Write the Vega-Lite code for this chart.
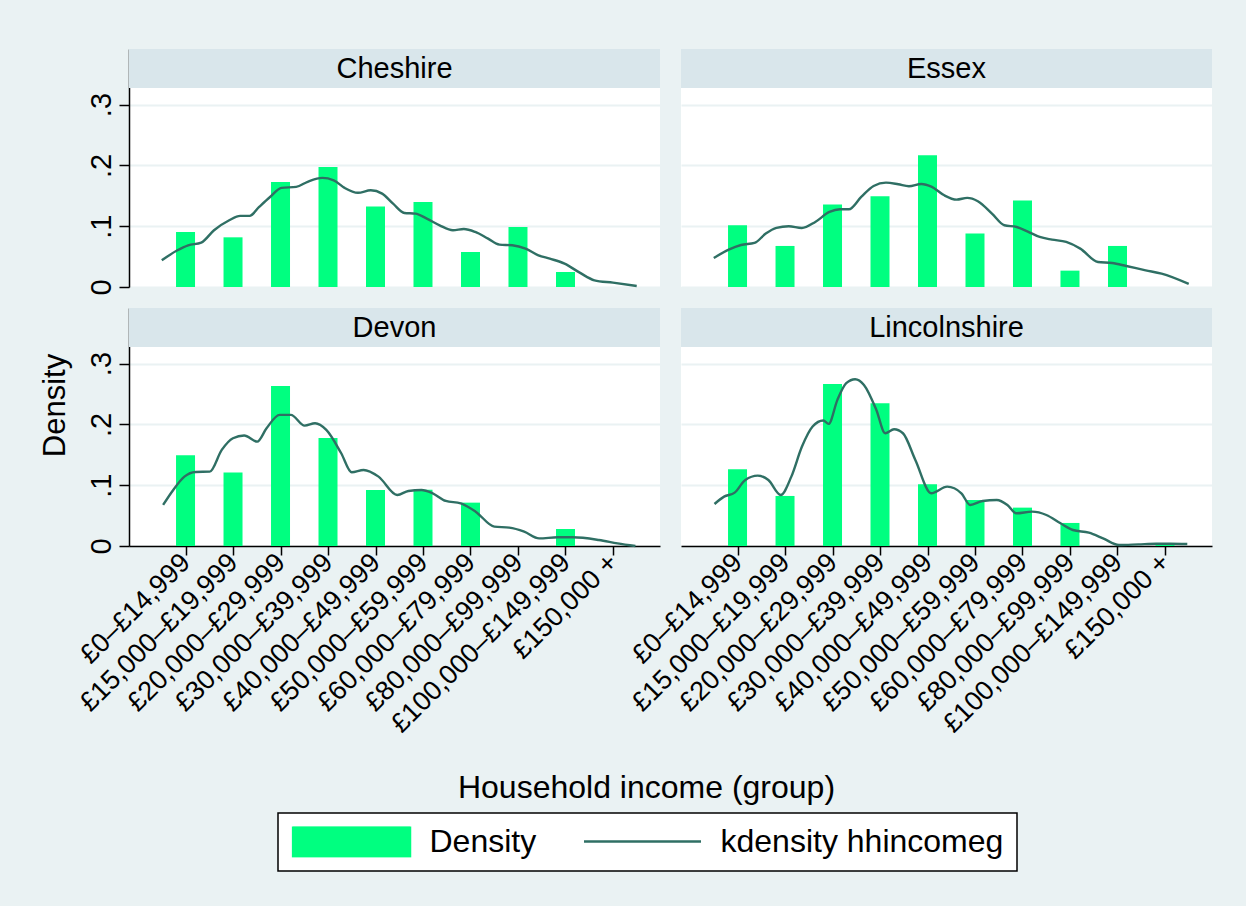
{
  "$schema": "https://vega.github.io/schema/vega-lite/v6.json",
  "background": "#eaf2f3",
  "padding": {"left": 39, "top": 49, "right": 34, "bottom": 34},
  "datasets": {
    "strips": [
      {"county": "Cheshire"}, {"county": "Essex"}, {"county": "Devon"}, {"county": "Lincolnshire"}
    ],
    "bars": [
      {"county": "Cheshire", "group": 1, "density": 0.0905},
      {"county": "Cheshire", "group": 2, "density": 0.0817},
      {"county": "Cheshire", "group": 3, "density": 0.1728},
      {"county": "Cheshire", "group": 4, "density": 0.1975},
      {"county": "Cheshire", "group": 5, "density": 0.1322},
      {"county": "Cheshire", "group": 6, "density": 0.1399},
      {"county": "Cheshire", "group": 7, "density": 0.0576},
      {"county": "Cheshire", "group": 8, "density": 0.0987},
      {"county": "Cheshire", "group": 9, "density": 0.0247},
      {"county": "Essex", "group": 1, "density": 0.1015},
      {"county": "Essex", "group": 2, "density": 0.0675},
      {"county": "Essex", "group": 3, "density": 0.1355},
      {"county": "Essex", "group": 4, "density": 0.1492},
      {"county": "Essex", "group": 5, "density": 0.2167},
      {"county": "Essex", "group": 6, "density": 0.0878},
      {"county": "Essex", "group": 7, "density": 0.1421},
      {"county": "Essex", "group": 8, "density": 0.0269},
      {"county": "Essex", "group": 9, "density": 0.0675},
      {"county": "Devon", "group": 1, "density": 0.1492},
      {"county": "Devon", "group": 2, "density": 0.1207},
      {"county": "Devon", "group": 3, "density": 0.2633},
      {"county": "Devon", "group": 4, "density": 0.1777},
      {"county": "Devon", "group": 5, "density": 0.0922},
      {"county": "Devon", "group": 6, "density": 0.0925},
      {"county": "Devon", "group": 7, "density": 0.0713},
      {"county": "Devon", "group": 9, "density": 0.028},
      {"county": "Lincolnshire", "group": 1, "density": 0.1262},
      {"county": "Lincolnshire", "group": 2, "density": 0.0823},
      {"county": "Lincolnshire", "group": 3, "density": 0.2666},
      {"county": "Lincolnshire", "group": 4, "density": 0.2348},
      {"county": "Lincolnshire", "group": 5, "density": 0.1015},
      {"county": "Lincolnshire", "group": 6, "density": 0.0757},
      {"county": "Lincolnshire", "group": 7, "density": 0.0631},
      {"county": "Lincolnshire", "group": 8, "density": 0.0379},
      {"county": "Lincolnshire", "group": 10, "density": 0.004}
    ],
    "kde": [
      {"county": "Cheshire", "x": 0.5, "y": 0.0439},
      {"county": "Cheshire", "x": 0.82, "y": 0.06},
      {"county": "Cheshire", "x": 1.055, "y": 0.0686},
      {"county": "Cheshire", "x": 1.33, "y": 0.073},
      {"county": "Cheshire", "x": 1.6, "y": 0.0933},
      {"county": "Cheshire", "x": 1.92, "y": 0.1097},
      {"county": "Cheshire", "x": 2.15, "y": 0.117},
      {"county": "Cheshire", "x": 2.35, "y": 0.117},
      {"county": "Cheshire", "x": 2.55, "y": 0.1317},
      {"county": "Cheshire", "x": 2.78, "y": 0.148},
      {"county": "Cheshire", "x": 3.02, "y": 0.163},
      {"county": "Cheshire", "x": 3.33, "y": 0.1646},
      {"county": "Cheshire", "x": 3.57, "y": 0.173},
      {"county": "Cheshire", "x": 3.88, "y": 0.1794},
      {"county": "Cheshire", "x": 4.12, "y": 0.1755},
      {"county": "Cheshire", "x": 4.35, "y": 0.163},
      {"county": "Cheshire", "x": 4.63, "y": 0.155},
      {"county": "Cheshire", "x": 4.9, "y": 0.159},
      {"county": "Cheshire", "x": 5.14, "y": 0.1536},
      {"county": "Cheshire", "x": 5.37, "y": 0.137},
      {"county": "Cheshire", "x": 5.61, "y": 0.1218},
      {"county": "Cheshire", "x": 5.84, "y": 0.1207},
      {"county": "Cheshire", "x": 6.08, "y": 0.1125},
      {"county": "Cheshire", "x": 6.35, "y": 0.1015},
      {"county": "Cheshire", "x": 6.63, "y": 0.0933},
      {"county": "Cheshire", "x": 6.86, "y": 0.0954},
      {"county": "Cheshire", "x": 7.1, "y": 0.0905},
      {"county": "Cheshire", "x": 7.37, "y": 0.0795},
      {"county": "Cheshire", "x": 7.61, "y": 0.0697},
      {"county": "Cheshire", "x": 7.88, "y": 0.0686},
      {"county": "Cheshire", "x": 8.16, "y": 0.0631},
      {"county": "Cheshire", "x": 8.43, "y": 0.0521},
      {"county": "Cheshire", "x": 8.67, "y": 0.0466},
      {"county": "Cheshire", "x": 8.98, "y": 0.0384},
      {"county": "Cheshire", "x": 9.3, "y": 0.0236},
      {"county": "Cheshire", "x": 9.61, "y": 0.011},
      {"county": "Cheshire", "x": 10.0, "y": 0.0071},
      {"county": "Cheshire", "x": 10.5, "y": 0.0016},
      {"county": "Essex", "x": 0.5, "y": 0.0477},
      {"county": "Essex", "x": 0.814, "y": 0.0614},
      {"county": "Essex", "x": 1.074, "y": 0.0691},
      {"county": "Essex", "x": 1.357, "y": 0.0724},
      {"county": "Essex", "x": 1.595, "y": 0.0878},
      {"county": "Essex", "x": 1.818, "y": 0.0971},
      {"county": "Essex", "x": 2.079, "y": 0.0998},
      {"county": "Essex", "x": 2.354, "y": 0.0971},
      {"county": "Essex", "x": 2.637, "y": 0.107},
      {"county": "Essex", "x": 2.935, "y": 0.1234},
      {"county": "Essex", "x": 3.158, "y": 0.1278},
      {"county": "Essex", "x": 3.344, "y": 0.1278},
      {"county": "Essex", "x": 3.604, "y": 0.1481},
      {"county": "Essex", "x": 3.865, "y": 0.1662},
      {"county": "Essex", "x": 4.125, "y": 0.1717},
      {"county": "Essex", "x": 4.385, "y": 0.169},
      {"county": "Essex", "x": 4.609, "y": 0.1657},
      {"county": "Essex", "x": 4.869, "y": 0.1695},
      {"county": "Essex", "x": 5.092, "y": 0.1646},
      {"county": "Essex", "x": 5.353, "y": 0.1508},
      {"county": "Essex", "x": 5.613, "y": 0.1437},
      {"county": "Essex", "x": 5.836, "y": 0.1465},
      {"county": "Essex", "x": 6.06, "y": 0.141},
      {"county": "Essex", "x": 6.357, "y": 0.1207},
      {"county": "Essex", "x": 6.618, "y": 0.1015},
      {"county": "Essex", "x": 6.878, "y": 0.0987},
      {"county": "Essex", "x": 7.101, "y": 0.0916},
      {"county": "Essex", "x": 7.362, "y": 0.0823},
      {"county": "Essex", "x": 7.622, "y": 0.0779},
      {"county": "Essex", "x": 7.92, "y": 0.0741},
      {"county": "Essex", "x": 8.217, "y": 0.0631},
      {"county": "Essex", "x": 8.589, "y": 0.0411},
      {"county": "Essex", "x": 8.887, "y": 0.0395},
      {"county": "Essex", "x": 9.185, "y": 0.0346},
      {"county": "Essex", "x": 9.594, "y": 0.0274},
      {"county": "Essex", "x": 9.929, "y": 0.0219},
      {"county": "Essex", "x": 10.5, "y": 0.005},
      {"county": "Devon", "x": 0.528, "y": 0.0675},
      {"county": "Devon", "x": 0.741, "y": 0.0922},
      {"county": "Devon", "x": 0.976, "y": 0.1141},
      {"county": "Devon", "x": 1.212, "y": 0.1218},
      {"county": "Devon", "x": 1.511, "y": 0.1223},
      {"county": "Devon", "x": 1.763, "y": 0.158},
      {"county": "Devon", "x": 1.998, "y": 0.1772},
      {"county": "Devon", "x": 2.234, "y": 0.1816},
      {"county": "Devon", "x": 2.509, "y": 0.1717},
      {"county": "Devon", "x": 2.706, "y": 0.1936},
      {"county": "Devon", "x": 2.981, "y": 0.2156},
      {"county": "Devon", "x": 3.217, "y": 0.2156},
      {"county": "Devon", "x": 3.508, "y": 0.198},
      {"county": "Devon", "x": 3.728, "y": 0.2019},
      {"county": "Devon", "x": 3.964, "y": 0.1909},
      {"county": "Devon", "x": 4.278, "y": 0.1525},
      {"county": "Devon", "x": 4.498, "y": 0.1212},
      {"county": "Devon", "x": 4.75, "y": 0.1251},
      {"county": "Devon", "x": 5.064, "y": 0.1141},
      {"county": "Devon", "x": 5.458, "y": 0.0839},
      {"county": "Devon", "x": 5.693, "y": 0.0905},
      {"county": "Devon", "x": 5.969, "y": 0.0922},
      {"county": "Devon", "x": 6.204, "y": 0.0867},
      {"county": "Devon", "x": 6.48, "y": 0.0741},
      {"county": "Devon", "x": 6.794, "y": 0.0702},
      {"county": "Devon", "x": 7.108, "y": 0.0565},
      {"county": "Devon", "x": 7.502, "y": 0.0318},
      {"county": "Devon", "x": 7.816, "y": 0.0302},
      {"county": "Devon", "x": 8.131, "y": 0.0236},
      {"county": "Devon", "x": 8.445, "y": 0.0126},
      {"county": "Devon", "x": 8.838, "y": 0.0143},
      {"county": "Devon", "x": 9.153, "y": 0.0143},
      {"county": "Devon", "x": 9.703, "y": 0.0099},
      {"county": "Devon", "x": 10.096, "y": 0.0044},
      {"county": "Devon", "x": 10.473, "y": 0.0},
      {"county": "Lincolnshire", "x": 0.515, "y": 0.0691},
      {"county": "Lincolnshire", "x": 0.717, "y": 0.0812},
      {"county": "Lincolnshire", "x": 0.94, "y": 0.0878},
      {"county": "Lincolnshire", "x": 1.164, "y": 0.1086},
      {"county": "Lincolnshire", "x": 1.425, "y": 0.1157},
      {"county": "Lincolnshire", "x": 1.649, "y": 0.1086},
      {"county": "Lincolnshire", "x": 1.91, "y": 0.0839},
      {"county": "Lincolnshire", "x": 2.133, "y": 0.1141},
      {"county": "Lincolnshire", "x": 2.357, "y": 0.1635},
      {"county": "Lincolnshire", "x": 2.581, "y": 0.1964},
      {"county": "Lincolnshire", "x": 2.805, "y": 0.2063},
      {"county": "Lincolnshire", "x": 2.917, "y": 0.2008},
      {"county": "Lincolnshire", "x": 3.103, "y": 0.2403},
      {"county": "Lincolnshire", "x": 3.289, "y": 0.2677},
      {"county": "Lincolnshire", "x": 3.476, "y": 0.2743},
      {"county": "Lincolnshire", "x": 3.662, "y": 0.2649},
      {"county": "Lincolnshire", "x": 3.923, "y": 0.2238},
      {"county": "Lincolnshire", "x": 4.11, "y": 0.1854},
      {"county": "Lincolnshire", "x": 4.296, "y": 0.192},
      {"county": "Lincolnshire", "x": 4.483, "y": 0.1854},
      {"county": "Lincolnshire", "x": 4.744, "y": 0.1415},
      {"county": "Lincolnshire", "x": 5.079, "y": 0.0867},
      {"county": "Lincolnshire", "x": 5.415, "y": 0.0976},
      {"county": "Lincolnshire", "x": 5.713, "y": 0.0867},
      {"county": "Lincolnshire", "x": 5.899, "y": 0.0675},
      {"county": "Lincolnshire", "x": 6.16, "y": 0.0741},
      {"county": "Lincolnshire", "x": 6.459, "y": 0.0757},
      {"county": "Lincolnshire", "x": 6.682, "y": 0.0675},
      {"county": "Lincolnshire", "x": 6.869, "y": 0.0538},
      {"county": "Lincolnshire", "x": 7.204, "y": 0.0565},
      {"county": "Lincolnshire", "x": 7.503, "y": 0.051},
      {"county": "Lincolnshire", "x": 7.801, "y": 0.0373},
      {"county": "Lincolnshire", "x": 8.062, "y": 0.0263},
      {"county": "Lincolnshire", "x": 8.397, "y": 0.0219},
      {"county": "Lincolnshire", "x": 8.696, "y": 0.0126},
      {"county": "Lincolnshire", "x": 9.031, "y": 0.0016},
      {"county": "Lincolnshire", "x": 9.441, "y": 0.0027},
      {"county": "Lincolnshire", "x": 9.814, "y": 0.0038},
      {"county": "Lincolnshire", "x": 10.112, "y": 0.0038},
      {"county": "Lincolnshire", "x": 10.47, "y": 0.0033}
    ]
  },
  "columns": 2,
  "spacing": 21,
  "bounds": "flush",
  "concat": [
    {
      "width": 531, "height": 238,
      "layer": [
        {
          "data": {"name": "strips"},
          "transform": [{"filter": "datum.county === 'Cheshire'"}],
          "mark": {"type": "rect", "fill": "#d9e6eb"},
          "encoding": {"y": {"datum": 0.3272, "type": "quantitative"}, "y2": {"datum": 0.3914}}
        },
        {
          "data": {"name": "strips"},
          "transform": [{"filter": "datum.county === 'Cheshire'"}],
          "mark": {"type": "text", "fontSize": 29, "align": "center", "baseline": "middle", "color": "black"},
          "encoding": {"y": {"datum": 0.3593, "type": "quantitative"}, "text": {"field": "county"}}
        },
        {
          "data": {"name": "bars"},
          "transform": [{"filter": "datum.county === 'Cheshire'"}],
          "mark": {"type": "bar", "width": 19},
          "encoding": {
            "x": {"field": "group", "type": "quantitative", "scale": {"domain": [-0.085, 10.885], "nice": false, "zero": false}, "axis": null},
            "y": {"field": "density", "type": "quantitative", "scale": {"domain": [0, 0.3914], "nice": false},
                  "axis": {"title": null, "values": [0, 0.1, 0.2, 0.3], "labelExpr": "datum.value === 0 ? '0' : '.' + round(datum.value * 10)",
                           "labelAngle": 270, "labelAlign": "center", "labelBaseline": "alphabetic", "labelFontSize": 29,
                           "tickSize": 10, "labelPadding": 9, "grid": true}},
            "color": {
              "datum": "Density",
              "scale": {"domain": ["Density", "kdensity hhincomeg"], "range": ["#00ff80", "#2f6f64"]},
              "legend": {
                "title": null, "orient": "none", "legendX": 149, "legendY": 764, "direction": "horizontal",
                "symbolSize": 13689, "symbolStrokeWidth": 0, "clipHeight": 30,
                "symbolType": "M-1,-0.2564L1,-0.2564L1,0.2564L-1,0.2564Z",
                "labelFontSize": 32, "labelColor": "black", "labelOffset": 18, "labelLimit": 500,
                "columnPadding": 46, "padding": 13.5,
                "fillColor": "white", "strokeColor": "black",
                "encode": {
                  "legend": {"update": {"strokeWidth": {"value": 1.5}}},
                  "symbols": {
                    "update": {
                      "shape": {"signal": "datum.value === 'Density' ? 'M-1,-0.2564L1,-0.2564L1,0.2564L-1,0.2564Z' : 'M-1,0L1,0'"},
                      "fill": {"signal": "datum.value === 'Density' ? '#00ff80' : 'transparent'"},
                      "stroke": {"signal": "datum.value === 'Density' ? 'transparent' : '#2f6f64'"},
                      "strokeWidth": {"value": 2.5},
                      "opacity": {"value": 1}
                    }
                  }
                }
              }
            }
          }
        },
        {
          "data": {"name": "kde"},
          "transform": [{"filter": "datum.county === 'Cheshire'"}],
          "mark": {"type": "line", "strokeWidth": 2.4, "interpolate": "monotone"},
          "encoding": {
            "x": {"field": "x", "type": "quantitative"},
            "y": {"field": "y", "type": "quantitative"},
            "color": {"datum": "kdensity hhincomeg"}
          }
        }
      ]
    },
    {
      "width": 531, "height": 238,
      "layer": [
        {
          "data": {"name": "strips"},
          "transform": [{"filter": "datum.county === 'Essex'"}],
          "mark": {"type": "rect", "fill": "#d9e6eb"},
          "encoding": {"y": {"datum": 0.3272, "type": "quantitative"}, "y2": {"datum": 0.3914}}
        },
        {
          "data": {"name": "strips"},
          "transform": [{"filter": "datum.county === 'Essex'"}],
          "mark": {"type": "text", "fontSize": 29, "align": "center", "baseline": "middle", "color": "black"},
          "encoding": {"y": {"datum": 0.3593, "type": "quantitative"}, "text": {"field": "county"}}
        },
        {
          "data": {"name": "bars"},
          "transform": [{"filter": "datum.county === 'Essex'"}],
          "mark": {"type": "bar", "width": 19},
          "encoding": {
            "x": {"field": "group", "type": "quantitative", "scale": {"domain": [-0.085, 10.885], "nice": false, "zero": false}, "axis": null},
            "y": {"field": "density", "type": "quantitative", "scale": {"domain": [0, 0.3914], "nice": false},
                  "axis": {"title": null, "values": [0, 0.1, 0.2, 0.3], "labels": false, "ticks": false, "domain": false, "grid": true}},
            "color": {"datum": "Density"}
          }
        },
        {
          "data": {"name": "kde"},
          "transform": [{"filter": "datum.county === 'Essex'"}],
          "mark": {"type": "line", "strokeWidth": 2.4, "interpolate": "monotone"},
          "encoding": {
            "x": {"field": "x", "type": "quantitative"},
            "y": {"field": "y", "type": "quantitative"},
            "color": {"datum": "kdensity hhincomeg"}
          }
        }
      ]
    },
    {
      "width": 531, "height": 238,
      "layer": [
        {
          "data": {"name": "strips"},
          "transform": [{"filter": "datum.county === 'Devon'"}],
          "mark": {"type": "rect", "fill": "#d9e6eb"},
          "encoding": {"y": {"datum": 0.3272, "type": "quantitative"}, "y2": {"datum": 0.3914}}
        },
        {
          "data": {"name": "strips"},
          "transform": [{"filter": "datum.county === 'Devon'"}],
          "mark": {"type": "text", "fontSize": 29, "align": "center", "baseline": "middle", "color": "black"},
          "encoding": {"y": {"datum": 0.3593, "type": "quantitative"}, "text": {"field": "county"}}
        },
        {
          "data": {"name": "bars"},
          "transform": [{"filter": "datum.county === 'Devon'"}],
          "mark": {"type": "bar", "width": 19},
          "encoding": {
            "x": {"field": "group", "type": "quantitative", "scale": {"domain": [-0.085, 10.885], "nice": false, "zero": false},
                  "axis": {"values": [1, 2, 3, 4, 5, 6, 7, 8, 9, 10],
                           "labelExpr": "['£0–£14,999','£15,000–£19,999','£20,000–£29,999','£30,000–£39,999','£40,000–£49,999','£50,000–£59,999','£60,000–£79,999','£80,000–£99,999','£100,000–£149,999','£150,000 +'][datum.value - 1]",
                           "labelAngle": -45, "labelAlign": "right", "labelBaseline": "middle", "labelFontSize": 27, "labelLimit": 1000,
                           "tickSize": 9, "labelPadding": 3, "grid": false,
                           "title": "Household income (group)", "titleFontSize": 32, "titleX": 517, "titleY": 251,
                           "titleAlign": "center", "titleBaseline": "alphabetic"}},
            "y": {"field": "density", "type": "quantitative", "scale": {"domain": [0, 0.3914], "nice": false},
                  "axis": {"values": [0, 0.1, 0.2, 0.3], "labelExpr": "datum.value === 0 ? '0' : '.' + round(datum.value * 10)",
                           "labelAngle": 270, "labelAlign": "center", "labelBaseline": "alphabetic", "labelFontSize": 29,
                           "tickSize": 10, "labelPadding": 9, "grid": true,
                           "title": "Density", "titleFontSize": 31, "titleAngle": 270, "titleX": -65, "titleY": 97,
                           "titleAlign": "center", "titleBaseline": "alphabetic"}},
            "color": {"datum": "Density"}
          }
        },
        {
          "data": {"name": "kde"},
          "transform": [{"filter": "datum.county === 'Devon'"}],
          "mark": {"type": "line", "strokeWidth": 2.4, "interpolate": "monotone"},
          "encoding": {
            "x": {"field": "x", "type": "quantitative"},
            "y": {"field": "y", "type": "quantitative"},
            "color": {"datum": "kdensity hhincomeg"}
          }
        }
      ]
    },
    {
      "width": 531, "height": 238,
      "layer": [
        {
          "data": {"name": "strips"},
          "transform": [{"filter": "datum.county === 'Lincolnshire'"}],
          "mark": {"type": "rect", "fill": "#d9e6eb"},
          "encoding": {"y": {"datum": 0.3272, "type": "quantitative"}, "y2": {"datum": 0.3914}}
        },
        {
          "data": {"name": "strips"},
          "transform": [{"filter": "datum.county === 'Lincolnshire'"}],
          "mark": {"type": "text", "fontSize": 29, "align": "center", "baseline": "middle", "color": "black"},
          "encoding": {"y": {"datum": 0.3593, "type": "quantitative"}, "text": {"field": "county"}}
        },
        {
          "data": {"name": "bars"},
          "transform": [{"filter": "datum.county === 'Lincolnshire'"}],
          "mark": {"type": "bar", "width": 19},
          "encoding": {
            "x": {"field": "group", "type": "quantitative", "scale": {"domain": [-0.085, 10.885], "nice": false, "zero": false},
                  "axis": {"values": [1, 2, 3, 4, 5, 6, 7, 8, 9, 10],
                           "labelExpr": "['£0–£14,999','£15,000–£19,999','£20,000–£29,999','£30,000–£39,999','£40,000–£49,999','£50,000–£59,999','£60,000–£79,999','£80,000–£99,999','£100,000–£149,999','£150,000 +'][datum.value - 1]",
                           "labelAngle": -45, "labelAlign": "right", "labelBaseline": "middle", "labelFontSize": 27, "labelLimit": 1000,
                           "tickSize": 9, "labelPadding": 3, "grid": false, "title": null}},
            "y": {"field": "density", "type": "quantitative", "scale": {"domain": [0, 0.3914], "nice": false},
                  "axis": {"title": null, "values": [0, 0.1, 0.2, 0.3], "labels": false, "ticks": false, "domain": false, "grid": true}},
            "color": {"datum": "Density"}
          }
        },
        {
          "data": {"name": "kde"},
          "transform": [{"filter": "datum.county === 'Lincolnshire'"}],
          "mark": {"type": "line", "strokeWidth": 2.4, "interpolate": "monotone"},
          "encoding": {
            "x": {"field": "x", "type": "quantitative"},
            "y": {"field": "y", "type": "quantitative"},
            "color": {"datum": "kdensity hhincomeg"}
          }
        }
      ]
    }
  ],
  "config": {
    "font": "Liberation Sans",
    "view": {"fill": "white", "stroke": null},
    "text": {"font": "Liberation Sans"},
    "axis": {
      "labelFont": "Liberation Sans", "titleFont": "Liberation Sans", "titleFontWeight": "normal",
      "labelColor": "black", "titleColor": "black", "domainColor": "black", "tickColor": "black",
      "domainWidth": 1.5, "tickWidth": 1.5, "gridColor": "#eaf2f3", "gridWidth": 2,
      "labelOverlap": false, "labelFlush": false, "labelBound": false, "zindex": 0
    },
    "legend": {"labelFont": "Liberation Sans"}
  }
}
